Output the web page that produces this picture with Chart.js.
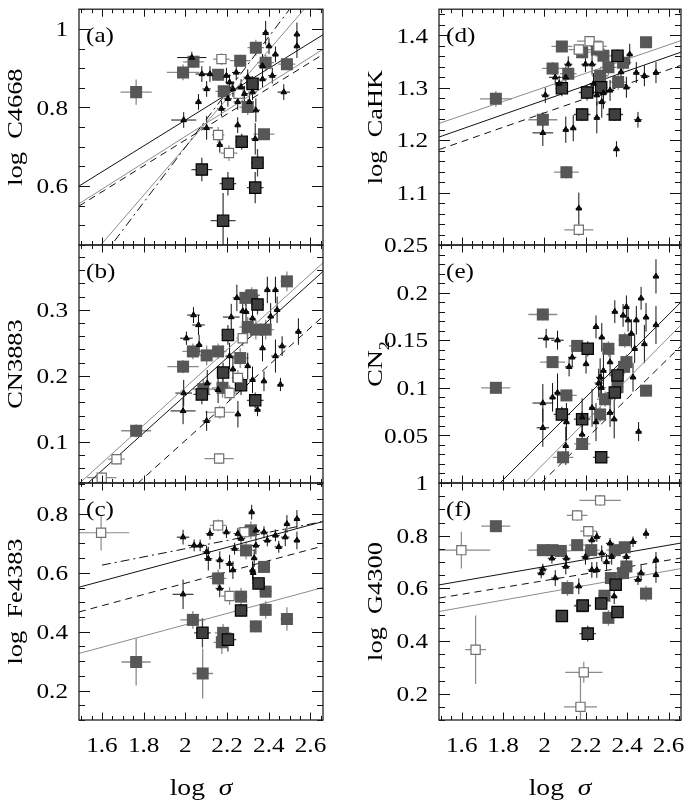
<!DOCTYPE html>
<html>
<head>
<meta charset="utf-8">
<script src="https://cdn.jsdelivr.net/npm/chart.js@4.4.0/dist/chart.umd.min.js"></script>
<style>
  html, body { margin: 0; padding: 0; background: #fff; }
  #wrap { position: relative; width: 692px; height: 802px; }
  #wrap canvas { position: absolute; left: 0; top: 0; }
</style>
</head>
<body>
<div id="wrap">
  <canvas id="pa" width="692" height="802"></canvas>
  <canvas id="pb" width="692" height="802"></canvas>
  <canvas id="pc" width="692" height="802"></canvas>
  <canvas id="pd" width="692" height="802"></canvas>
  <canvas id="pe" width="692" height="802"></canvas>
  <canvas id="pf" width="692" height="802"></canvas>
</div>
<script>
// shared x axis: log sigma
const X_MIN = 1.49, X_MAX = 2.66;
const X_TICKS = [1.6, 1.8, 2, 2.2, 2.4, 2.6];

// each point: [log sigma, index, x error, y error]
// fit lines: [x1, y1, x2, y2]

// ---- (a) log C4668
const A_TICKS = [0.6, 0.8, 1];
const A_FILLED = [
  [1.764, 0.839, 0.075, 0.032], [1.989, 0.889, 0.078, 0.02], [2.039, 0.916, 0.05, 0.015],
  [2.157, 0.883, 0.04, 0.015], [2.184, 0.841, 0.04, 0.015], [2.263, 0.919, 0.05, 0.015],
  [2.338, 0.952, 0.04, 0.02], [2.385, 0.914, 0.04, 0.02], [2.487, 0.910, 0.04, 0.015],
  [2.299, 0.801, 0.04, 0.02], [2.377, 0.732, 0.05, 0.012]
];
const A_BOXED = [
  [2.079, 0.642, 0.05, 0.03], [2.204, 0.606, 0.04, 0.03], [2.181, 0.512, 0.06, 0.07],
  [2.270, 0.713, 0.03, 0.02], [2.346, 0.659, 0.03, 0.035], [2.335, 0.596, 0.04, 0.04],
  [2.322, 0.860, 0.03, 0.02]
];
const A_OPEN = [
  [2.173, 0.923, 0.04, 0.015], [2.157, 0.730, 0.03, 0.02], [2.209, 0.684, 0.04, 0.02],
  [2.255, 0.835, 0.03, 0.02]
];
const A_TRI = [
  [2.031, 0.927, 0.07, 0.015], [1.992, 0.768, 0.06, 0.02], [2.102, 0.748, 0.03, 0.03],
  [2.063, 0.814, 0.015, 0.02], [2.102, 0.847, 0.02, 0.02], [2.079, 0.885, 0.03, 0.02],
  [2.118, 0.885, 0.03, 0.02], [2.197, 0.881, 0.02, 0.02], [2.212, 0.864, 0.02, 0.02],
  [2.244, 0.889, 0.02, 0.02], [2.251, 0.814, 0.02, 0.02], [2.251, 0.755, 0.015, 0.02],
  [2.173, 0.797, 0.02, 0.02], [2.165, 0.705, 0.015, 0.02], [2.338, 0.793, 0.02, 0.03],
  [2.335, 0.720, 0.02, 0.04], [2.385, 0.990, 0.015, 0.03], [2.401, 0.956, 0.015, 0.02],
  [2.432, 0.935, 0.015, 0.02], [2.535, 0.986, 0.015, 0.03], [2.535, 0.956, 0.015, 0.03],
  [2.472, 0.839, 0.03, 0.02], [2.417, 0.881, 0.02, 0.02], [2.370, 0.872, 0.02, 0.02],
  [2.299, 0.877, 0.02, 0.02], [2.267, 0.852, 0.02, 0.02], [2.283, 0.835, 0.02, 0.02],
  [2.322, 0.839, 0.02, 0.02], [2.228, 0.847, 0.02, 0.02], [2.204, 0.822, 0.02, 0.02],
  [2.307, 0.814, 0.02, 0.02], [2.370, 0.906, 0.02, 0.03]
];
const A_FITS = [
  [1.49, 0.600, 2.66, 0.985], [1.49, 0.555, 2.66, 0.948], [1.49, 0.549, 2.66, 0.935],
  [1.66, 0.460, 2.50, 1.050], [1.594, 0.450, 2.57, 1.050]
];
const A_FIT_STYLES = ['solid', 'gray', 'dash', 'dashdot', 'gray'];

// ---- (b) CN3883
const B_TICKS = [0.1, 0.2, 0.3];
const B_FILLED = [
  [1.764, 0.117, 0.072, 0.01], [1.989, 0.214, 0.075, 0.01], [2.036, 0.237, 0.05, 0.012],
  [2.102, 0.231, 0.05, 0.015], [2.157, 0.237, 0.04, 0.012], [2.178, 0.182, 0.05, 0.015],
  [2.086, 0.180, 0.05, 0.015], [2.263, 0.227, 0.04, 0.015], [2.288, 0.318, 0.04, 0.012],
  [2.318, 0.322, 0.04, 0.012], [2.299, 0.274, 0.04, 0.015], [2.338, 0.270, 0.04, 0.015],
  [2.385, 0.270, 0.04, 0.015], [2.487, 0.343, 0.03, 0.015]
];
const B_BOXED = [
  [2.204, 0.262, 0.03, 0.015], [2.181, 0.205, 0.03, 0.015], [2.079, 0.172, 0.04, 0.015],
  [2.267, 0.186, 0.03, 0.015], [2.335, 0.163, 0.04, 0.012], [2.346, 0.308, 0.03, 0.015]
];
const B_OPEN = [
  [1.670, 0.074, 0.04, 0.008], [1.599, 0.046, 0.07, 0.008], [2.162, 0.075, 0.07, 0.008],
  [2.165, 0.145, 0.07, 0.01], [2.212, 0.174, 0.04, 0.012], [2.275, 0.257, 0.03, 0.012],
  [2.252, 0.197, 0.03, 0.012]
];
const B_TRI = [
  [2.039, 0.292, 0.03, 0.012], [2.063, 0.277, 0.03, 0.015], [2.005, 0.257, 0.03, 0.01],
  [2.066, 0.247, 0.015, 0.015], [1.989, 0.147, 0.06, 0.02], [1.992, 0.174, 0.04, 0.02],
  [2.102, 0.132, 0.02, 0.015], [2.105, 0.189, 0.02, 0.02], [2.157, 0.179, 0.02, 0.02],
  [2.220, 0.289, 0.04, 0.02], [2.247, 0.318, 0.02, 0.02], [2.212, 0.230, 0.02, 0.02],
  [2.252, 0.142, 0.015, 0.02], [2.291, 0.297, 0.015, 0.02], [2.322, 0.287, 0.015, 0.02],
  [2.370, 0.242, 0.015, 0.02], [2.377, 0.192, 0.015, 0.015], [2.393, 0.330, 0.015, 0.02],
  [2.432, 0.330, 0.015, 0.02], [2.409, 0.290, 0.015, 0.02], [2.440, 0.300, 0.015, 0.02],
  [2.464, 0.245, 0.02, 0.015], [2.432, 0.230, 0.02, 0.025], [2.456, 0.187, 0.015, 0.01],
  [2.542, 0.267, 0.015, 0.02], [2.346, 0.149, 0.015, 0.01], [2.322, 0.194, 0.015, 0.02],
  [2.299, 0.215, 0.015, 0.02], [2.228, 0.210, 0.015, 0.02], [2.275, 0.298, 0.015, 0.02]
];
const B_FITS = [
  [1.49, 0.037, 2.66, 0.371], [1.53, 0.037, 2.66, 0.358], [1.77, 0.037, 2.66, 0.290]
];
const B_FIT_STYLES = ['gray', 'solid', 'dash'];

// ---- (c) log Fe4383
const C_TICKS = [0.2, 0.4, 0.6, 0.8];
const C_FILLED = [
  [1.764, 0.297, 0.07, 0.08], [2.083, 0.258, 0.05, 0.085], [2.036, 0.440, 0.06, 0.03],
  [2.157, 0.581, 0.04, 0.03], [2.181, 0.396, 0.04, 0.03], [2.175, 0.364, 0.04, 0.04],
  [2.267, 0.519, 0.03, 0.03], [2.377, 0.620, 0.03, 0.02], [2.385, 0.536, 0.03, 0.02],
  [2.385, 0.474, 0.03, 0.03], [2.338, 0.418, 0.03, 0.02], [2.487, 0.443, 0.03, 0.04],
  [2.314, 0.744, 0.03, 0.03], [2.291, 0.676, 0.04, 0.03]
];
const C_BOXED = [
  [2.082, 0.396, 0.04, 0.05], [2.204, 0.373, 0.04, 0.04], [2.267, 0.472, 0.03, 0.02],
  [2.351, 0.564, 0.03, 0.02]
];
const C_OPEN = [
  [1.596, 0.736, 0.135, 0.06], [2.157, 0.761, 0.04, 0.02], [2.212, 0.521, 0.04, 0.03],
  [2.283, 0.738, 0.04, 0.02]
];
const C_TRI = [
  [1.989, 0.527, 0.05, 0.05], [1.989, 0.721, 0.03, 0.025], [2.042, 0.693, 0.03, 0.02],
  [2.071, 0.693, 0.03, 0.02], [2.102, 0.671, 0.02, 0.02], [2.118, 0.733, 0.02, 0.02],
  [2.110, 0.648, 0.02, 0.04], [2.165, 0.643, 0.02, 0.03], [2.197, 0.738, 0.02, 0.02],
  [2.212, 0.631, 0.02, 0.03], [2.228, 0.609, 0.015, 0.03], [2.252, 0.733, 0.02, 0.02],
  [2.267, 0.716, 0.02, 0.02], [2.318, 0.806, 0.015, 0.025], [2.322, 0.609, 0.015, 0.03],
  [2.338, 0.693, 0.02, 0.03], [2.377, 0.738, 0.02, 0.02], [2.393, 0.710, 0.02, 0.02],
  [2.432, 0.727, 0.02, 0.02], [2.448, 0.688, 0.02, 0.02], [2.479, 0.721, 0.02, 0.03],
  [2.487, 0.766, 0.015, 0.03], [2.535, 0.783, 0.015, 0.03], [2.535, 0.710, 0.015, 0.03],
  [2.165, 0.547, 0.02, 0.03], [2.236, 0.682, 0.02, 0.02], [2.338, 0.744, 0.02, 0.02],
  [2.330, 0.650, 0.015, 0.03], [2.325, 0.600, 0.015, 0.03]
];
const C_FITS = [
  [1.60, 0.626, 2.66, 0.774], [1.49, 0.551, 2.66, 0.774], [1.49, 0.467, 2.66, 0.691],
  [1.49, 0.326, 2.66, 0.550]
];
const C_FIT_STYLES = ['dashdot', 'solid', 'dash', 'gray'];

// ---- (d) log CaHK
const D_TICKS = [1.1, 1.2, 1.3, 1.4];
const D_FILLED = [
  [1.765, 1.279, 0.077, 0.015], [1.992, 1.239, 0.07, 0.015], [2.039, 1.337, 0.05, 0.012],
  [2.084, 1.379, 0.05, 0.01], [2.115, 1.327, 0.04, 0.012], [2.106, 1.139, 0.06, 0.012],
  [2.182, 1.368, 0.04, 0.012], [2.253, 1.373, 0.04, 0.012], [2.285, 1.361, 0.04, 0.015],
  [2.309, 1.339, 0.04, 0.015], [2.380, 1.348, 0.04, 0.015], [2.491, 1.387, 0.03, 0.01],
  [2.356, 1.311, 0.04, 0.015], [2.269, 1.323, 0.04, 0.015]
];
const D_BOXED = [
  [2.084, 1.299, 0.03, 0.015], [2.182, 1.249, 0.04, 0.012], [2.206, 1.291, 0.04, 0.015],
  [2.274, 1.301, 0.03, 0.015], [2.340, 1.249, 0.04, 0.012], [2.353, 1.361, 0.03, 0.012]
];
const D_OPEN = [
  [2.218, 1.389, 0.06, 0.01], [2.166, 1.373, 0.05, 0.01], [2.261, 1.379, 0.04, 0.01],
  [2.166, 1.029, 0.07, 0.012]
];
const D_TRI = [
  [2.004, 1.286, 0.02, 0.015], [1.992, 1.214, 0.05, 0.025], [2.052, 1.320, 0.03, 0.015],
  [2.071, 1.308, 0.02, 0.015], [2.103, 1.320, 0.02, 0.02], [2.115, 1.345, 0.02, 0.015],
  [2.103, 1.220, 0.015, 0.025], [2.139, 1.223, 0.015, 0.025], [2.166, 1.070, 0.015, 0.03],
  [2.198, 1.345, 0.02, 0.015], [2.253, 1.286, 0.02, 0.02], [2.253, 1.243, 0.015, 0.03],
  [2.277, 1.273, 0.02, 0.03], [2.317, 1.295, 0.02, 0.02], [2.348, 1.183, 0.015, 0.015],
  [2.396, 1.301, 0.02, 0.02], [2.412, 1.364, 0.015, 0.02], [2.444, 1.329, 0.015, 0.02],
  [2.452, 1.239, 0.02, 0.015], [2.483, 1.323, 0.02, 0.02], [2.539, 1.329, 0.015, 0.02],
  [2.237, 1.308, 0.02, 0.02], [2.230, 1.345, 0.02, 0.02], [2.285, 1.290, 0.015, 0.03],
  [2.370, 1.330, 0.015, 0.02]
];
const D_FITS = [
  [1.49, 1.232, 2.66, 1.390], [1.49, 1.206, 2.66, 1.368], [1.49, 1.182, 2.66, 1.343]
];
const D_FIT_STYLES = ['gray', 'solid', 'dash'];

// ---- (e) CN2
const E_TICKS = [0.05, 0.1, 0.15, 0.2, 0.25];
const E_FILLED = [
  [1.765, 0.100, 0.07, 0.006], [1.992, 0.177, 0.07, 0.006], [2.039, 0.127, 0.06, 0.006],
  [2.106, 0.092, 0.05, 0.006], [2.158, 0.144, 0.04, 0.006], [2.090, 0.027, 0.05, 0.006],
  [2.182, 0.041, 0.04, 0.006], [2.269, 0.072, 0.04, 0.008], [2.293, 0.088, 0.04, 0.008],
  [2.353, 0.101, 0.03, 0.008], [2.388, 0.150, 0.03, 0.008], [2.396, 0.127, 0.03, 0.008],
  [2.385, 0.122, 0.03, 0.008], [2.491, 0.097, 0.03, 0.006], [2.309, 0.141, 0.03, 0.008]
];
const E_BOXED = [
  [2.084, 0.072, 0.04, 0.008], [2.182, 0.067, 0.04, 0.008], [2.209, 0.141, 0.03, 0.008],
  [2.274, 0.027, 0.04, 0.005], [2.340, 0.095, 0.04, 0.008], [2.353, 0.113, 0.03, 0.008]
];
const E_OPEN = [];
const E_TRI = [
  [2.008, 0.152, 0.04, 0.01], [2.063, 0.150, 0.03, 0.01], [1.992, 0.084, 0.05, 0.02],
  [1.992, 0.058, 0.03, 0.02], [2.039, 0.090, 0.015, 0.015], [2.063, 0.095, 0.015, 0.02],
  [2.106, 0.064, 0.015, 0.02], [2.103, 0.039, 0.015, 0.02], [2.119, 0.122, 0.02, 0.01],
  [2.134, 0.132, 0.02, 0.01], [2.182, 0.069, 0.015, 0.02], [2.182, 0.051, 0.015, 0.015],
  [2.201, 0.125, 0.015, 0.01], [2.230, 0.079, 0.015, 0.02], [2.249, 0.164, 0.015, 0.012],
  [2.249, 0.064, 0.015, 0.02], [2.269, 0.111, 0.02, 0.02], [2.277, 0.153, 0.015, 0.015],
  [2.285, 0.118, 0.015, 0.02], [2.317, 0.127, 0.015, 0.015], [2.340, 0.180, 0.015, 0.012],
  [2.337, 0.067, 0.015, 0.02], [2.317, 0.074, 0.015, 0.015], [2.380, 0.176, 0.015, 0.012],
  [2.396, 0.185, 0.015, 0.012], [2.404, 0.171, 0.015, 0.012], [2.420, 0.157, 0.015, 0.015],
  [2.428, 0.111, 0.015, 0.015], [2.436, 0.141, 0.015, 0.015], [2.444, 0.171, 0.015, 0.015],
  [2.467, 0.194, 0.015, 0.012], [2.491, 0.174, 0.015, 0.015], [2.483, 0.146, 0.015, 0.02],
  [2.539, 0.217, 0.015, 0.018], [2.539, 0.166, 0.015, 0.02], [2.455, 0.054, 0.015, 0.01],
  [2.262, 0.105, 0.02, 0.015], [2.275, 0.100, 0.02, 0.015]
];
const E_FITS = [
  [1.785, 0.0, 2.66, 0.190], [1.904, 0.0, 2.66, 0.166], [1.984, 0.0, 2.66, 0.144]
];
const E_FIT_STYLES = ['solid', 'gray', 'dash'];

// ---- (f) log G4300
const F_TICKS = [0.2, 0.4, 0.6, 0.8, 1];
const F_FILLED = [
  [1.765, 0.836, 0.07, 0.02], [1.992, 0.745, 0.07, 0.015], [2.039, 0.745, 0.05, 0.015],
  [2.079, 0.742, 0.05, 0.015], [2.158, 0.764, 0.04, 0.015], [2.111, 0.601, 0.03, 0.03],
  [2.226, 0.745, 0.04, 0.02], [2.340, 0.745, 0.04, 0.02], [2.388, 0.756, 0.03, 0.02],
  [2.396, 0.683, 0.03, 0.02], [2.380, 0.658, 0.03, 0.02], [2.321, 0.639, 0.03, 0.02],
  [2.290, 0.572, 0.03, 0.02], [2.309, 0.488, 0.03, 0.03], [2.491, 0.580, 0.03, 0.03],
  [2.182, 0.532, 0.04, 0.02]
];
const F_BOXED = [
  [2.084, 0.495, 0.03, 0.015], [2.185, 0.535, 0.04, 0.02], [2.209, 0.428, 0.04, 0.03],
  [2.274, 0.542, 0.03, 0.02], [2.344, 0.614, 0.03, 0.02], [2.353, 0.510, 0.03, 0.02]
];
const F_OPEN = [
  [1.598, 0.745, 0.14, 0.07], [1.667, 0.367, 0.05, 0.13], [2.158, 0.877, 0.05, 0.02],
  [2.269, 0.934, 0.10, 0.02], [2.212, 0.817, 0.04, 0.02], [2.190, 0.281, 0.09, 0.04],
  [2.174, 0.150, 0.08, 0.12]
];
const F_TRI = [
  [1.992, 0.673, 0.02, 0.02], [1.984, 0.658, 0.02, 0.02], [2.036, 0.714, 0.02, 0.02],
  [2.052, 0.639, 0.02, 0.03], [2.103, 0.683, 0.02, 0.03], [2.106, 0.714, 0.02, 0.02],
  [2.166, 0.608, 0.02, 0.03], [2.198, 0.720, 0.02, 0.03], [2.229, 0.783, 0.02, 0.02],
  [2.229, 0.670, 0.02, 0.03], [2.253, 0.796, 0.02, 0.02], [2.277, 0.733, 0.02, 0.03],
  [2.317, 0.771, 0.02, 0.02], [2.325, 0.720, 0.02, 0.03], [2.337, 0.570, 0.015, 0.03],
  [2.396, 0.720, 0.02, 0.03], [2.428, 0.777, 0.02, 0.02], [2.452, 0.633, 0.02, 0.02],
  [2.467, 0.658, 0.02, 0.03], [2.491, 0.808, 0.015, 0.02], [2.539, 0.708, 0.015, 0.03],
  [2.539, 0.651, 0.015, 0.03], [2.253, 0.670, 0.02, 0.03], [2.300, 0.700, 0.02, 0.03]
];
const F_FITS = [
  [1.49, 0.613, 2.66, 0.772], [1.49, 0.563, 2.66, 0.715], [1.49, 0.512, 2.66, 0.675]
];
const F_FIT_STYLES = ['solid', 'dash', 'gray'];

// ---------------------------------------------------------------
const FONT = '"Liberation Serif", "Times New Roman", serif';
const STRETCH = 1.2;
const COLS = [{ l: 79, r: 323 }, { l: 439, r: 681 }];
const ROWS = [{ t: 6, b: 245 }, { t: 245, b: 483 }, { t: 483, b: 720 }];

const LINE_STYLE = {
  solid:   { color: '#111', dash: [] },
  gray:    { color: '#8c8c8c', dash: [] },
  dash:    { color: '#111', dash: [7, 5] },
  dashdot: { color: '#111', dash: [9, 4, 2, 4] }
};

const GROUPS = {
  filled: { style: 'rect', r: 8.5, bg: '#575757', border: '#575757', bw: 0, err: '#8a8a8a', ew: 1.3, order: 3 },
  boxed:  { style: 'rect', r: 8, bg: '#3f3f3f', border: '#000', bw: 1.2, err: '#444', ew: 1.3, order: 2 },
  open:   { style: 'rect', r: 6.5, bg: '#fff', border: '#707070', bw: 1.2, err: '#8a8a8a', ew: 1.2, order: 1 },
  tri:    { style: 'triangle', r: 3.3, bg: '#111', border: '#000', bw: 1, err: '#111', ew: 1, order: 0 }
};

const PANELS = [
  { id: 'pa', col: 0, row: 0, tag: '(a)', ymin: 0.45, ymax: 1.05, minor: 0.05, major: 0.2, ticks: A_TICKS,
    title: [['log\u2002C4668', 0]], groups: { filled: A_FILLED, boxed: A_BOXED, open: A_OPEN, tri: A_TRI },
    fits: A_FITS, fitStyles: A_FIT_STYLES },
  { id: 'pb', col: 0, row: 1, tag: '(b)', ymin: 0.038, ymax: 0.398, minor: 0.02, major: 0.1, ticks: B_TICKS,
    title: [['CN3883', 0]], groups: { filled: B_FILLED, boxed: B_BOXED, open: B_OPEN, tri: B_TRI },
    fits: B_FITS, fitStyles: B_FIT_STYLES },
  { id: 'pc', col: 0, row: 2, tag: '(c)', ymin: 0.1, ymax: 0.905, minor: 0.05, major: 0.2, ticks: C_TICKS,
    title: [['log\u2002Fe4383', 0]], groups: { filled: C_FILLED, boxed: C_BOXED, open: C_OPEN, tri: C_TRI },
    fits: C_FITS, fitStyles: C_FIT_STYLES },
  { id: 'pd', col: 1, row: 0, tag: '(d)', ymin: 1.0, ymax: 1.45, minor: 0.02, major: 0.1, ticks: D_TICKS,
    title: [['log\u2002CaHK', 0]], groups: { filled: D_FILLED, boxed: D_BOXED, open: D_OPEN, tri: D_TRI },
    fits: D_FITS, fitStyles: D_FIT_STYLES },
  { id: 'pe', col: 1, row: 1, tag: '(e)', ymin: 0.0, ymax: 0.25, minor: 0.01, major: 0.05, ticks: E_TICKS,
    title: [['CN', 0], ['2', 1]], groups: { filled: E_FILLED, boxed: E_BOXED, open: E_OPEN, tri: E_TRI },
    fits: E_FITS, fitStyles: E_FIT_STYLES },
  { id: 'pf', col: 1, row: 2, tag: '(f)', ymin: 0.1, ymax: 1.0, minor: 0.05, major: 0.2, ticks: F_TICKS,
    title: [['log\u2002G4300', 0]], groups: { filled: F_FILLED, boxed: F_BOXED, open: F_OPEN, tri: F_TRI },
    fits: F_FITS, fitStyles: F_FIT_STYLES }
];

function eachTick(min, max, step, major, fn) {
  const k0 = Math.ceil(min / step - 1e-9), k1 = Math.floor(max / step + 1e-9);
  for (let k = k0; k <= k1; k++) {
    const v = k * step;
    const q = v / major;
    fn(v, Math.abs(q - Math.round(q)) < 1e-6);
  }
}

// pieces: [text, kind] kind 0 = normal, 1 = subscript, 2 = italic
function drawText(ctx, pieces, x, y, align, rotate, size) {
  const fonts = pieces.map(p => p[1] === 1 ? Math.round(size * 0.68) + 'px ' + FONT
                              : (p[1] === 2 ? 'italic ' : '') + size + 'px ' + FONT);
  ctx.save();
  ctx.translate(x, y);
  if (rotate) ctx.rotate(-Math.PI / 2);
  ctx.scale(STRETCH, 1);
  ctx.textAlign = 'left';
  ctx.textBaseline = 'alphabetic';
  ctx.fillStyle = '#000';
  let w = 0;
  pieces.forEach((p, i) => { ctx.font = fonts[i]; w += ctx.measureText(p[0]).width; });
  let cx = align === 'right' ? -w : (align === 'left' ? 0 : -w / 2);
  const base = size * 0.34;
  pieces.forEach((p, i) => {
    ctx.font = fonts[i];
    ctx.fillText(p[0], cx, base + (p[1] === 1 ? size * 0.3 : 0));
    cx += ctx.measureText(p[0]).width;
  });
  ctx.restore();
}

function panelPlugin(p) {
  return {
    id: 'panel_' + p.id,
    beforeDatasetsDraw(chart) {
      const ctx = chart.ctx, a = chart.chartArea, xs = chart.scales.x, ys = chart.scales.y;
      ctx.save();
      ctx.beginPath();
      ctx.rect(a.left, a.top, a.right - a.left, a.bottom - a.top);
      ctx.clip();
      ['filled', 'boxed', 'open', 'tri'].forEach(g => {
        const st = GROUPS[g];
        ctx.strokeStyle = st.err;
        ctx.lineWidth = st.ew;
        ctx.beginPath();
        p.groups[g].forEach(d => {
          const px = xs.getPixelForValue(d[0]), py = ys.getPixelForValue(d[1]);
          ctx.moveTo(xs.getPixelForValue(d[0] - d[2]), py);
          ctx.lineTo(xs.getPixelForValue(d[0] + d[2]), py);
          ctx.moveTo(px, ys.getPixelForValue(d[1] - d[3]));
          ctx.lineTo(px, ys.getPixelForValue(d[1] + d[3]));
        });
        ctx.stroke();
      });
      ctx.restore();
    },
    afterDraw(chart) {
      const ctx = chart.ctx, a = chart.chartArea, xs = chart.scales.x, ys = chart.scales.y;
      ctx.save();
      ctx.strokeStyle = '#111';
      ctx.lineWidth = 1;
      ctx.beginPath();
      eachTick(X_MIN, X_MAX, 0.05, 0.2, (v, major) => {
        const px = Math.round(xs.getPixelForValue(v)) + 0.5;
        const len = major ? 7.5 : 4;
        ctx.moveTo(px, a.bottom); ctx.lineTo(px, a.bottom - len);
        ctx.moveTo(px, a.top); ctx.lineTo(px, a.top + len);
      });
      eachTick(p.ymin, p.ymax, p.minor, p.major, (v, major) => {
        const py = Math.round(ys.getPixelForValue(v)) + 0.5;
        const len = major ? 11 : 6;
        ctx.moveTo(a.left, py); ctx.lineTo(a.left + len, py);
        ctx.moveTo(a.right, py); ctx.lineTo(a.right - len, py);
      });
      ctx.stroke();
      ctx.lineWidth = 1.3;
      ctx.strokeStyle = '#222';
      ctx.strokeRect(a.left, a.top, a.right - a.left, a.bottom - a.top);
      ctx.restore();

      p.ticks.forEach(v => drawText(ctx, [[String(v), 0]], a.left - 11, ys.getPixelForValue(v), 'right', false, 21));
      if (p.row === 2) {
        X_TICKS.forEach(v => drawText(ctx, [[String(v), 0]], xs.getPixelForValue(v), a.bottom + 25, 'center', false, 21));
        drawText(ctx, [['log\u2002', 0], ['\u03c3', 2]], (a.left + a.right) / 2, a.bottom + 67, 'center', false, 23);
      }
      drawText(ctx, p.title, a.left - 64, (a.top + a.bottom) / 2, 'center', true, 22);
      drawText(ctx, [[p.tag, 0]], a.left + 7, a.top + 26, 'left', false, 21);
    }
  };
}

function makePanel(p) {
  const box = { l: COLS[p.col].l, r: COLS[p.col].r, t: ROWS[p.row].t, b: ROWS[p.row].b };
  const datasets = [];
  p.fits.forEach((f, i) => {
    const ls = LINE_STYLE[p.fitStyles[i]];
    datasets.push({
      data: [{ x: f[0], y: f[1] }, { x: f[2], y: f[3] }],
      showLine: true, borderColor: ls.color, borderWidth: 1, borderDash: ls.dash,
      pointRadius: 0, fill: false, clip: 0, order: 10
    });
  });
  Object.keys(GROUPS).forEach(g => {
    const st = GROUPS[g];
    datasets.push({
      data: p.groups[g].map(d => ({ x: d[0], y: d[1] })),
      pointStyle: st.style, pointRadius: st.r, pointBackgroundColor: st.bg,
      pointBorderColor: st.border, pointBorderWidth: st.bw, clip: 0, order: st.order
    });
  });
  new Chart(document.getElementById(p.id), {
    type: 'scatter',
    data: { datasets },
    options: {
      responsive: false,
      animation: false,
      devicePixelRatio: 1,
      events: [],
      layout: { padding: { left: box.l, right: 692 - box.r, top: box.t, bottom: 802 - box.b } },
      plugins: { legend: { display: false }, tooltip: { enabled: false } },
      scales: {
        x: { type: 'linear', display: false, min: X_MIN, max: X_MAX },
        y: { type: 'linear', display: false, min: p.ymin, max: p.ymax }
      }
    },
    plugins: [panelPlugin(p)]
  });
}

PANELS.forEach(makePanel);
</script>
</body>
</html>
